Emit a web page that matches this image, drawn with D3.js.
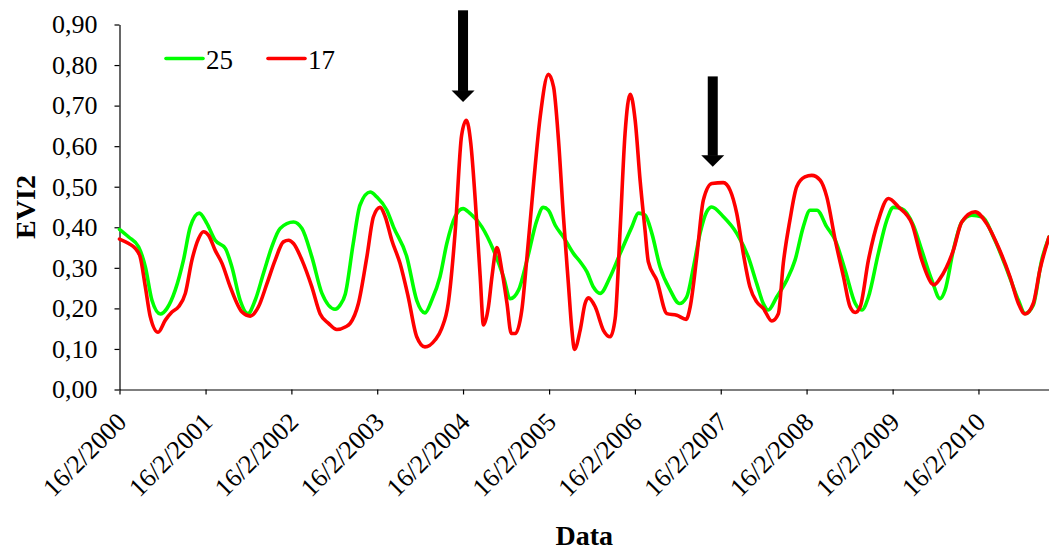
<!DOCTYPE html>
<html>
<head>
<meta charset="utf-8">
<script src="https://cdn.jsdelivr.net/npm/d3@7"></script>
<style>
  html, body { margin: 0; padding: 0; background: #ffffff; }
  svg { display: block; }
  text { font-family: "Liberation Serif", "Times New Roman", serif; fill: #000; }
</style>
</head>
<body>
<svg id="chart" width="1049" height="553"></svg>
<script>
// series names (legend)
var seriesNames = ["25", "17"];

// x tick labels
var xTickLabels = ["16/2/2000", "16/2/2001", "16/2/2002", "16/2/2003", "16/2/2004", "16/2/2005",
                   "16/2/2006", "16/2/2007", "16/2/2008", "16/2/2009", "16/2/2010"];

// y ticks
var yTicks = [0, 0.1, 0.2, 0.3, 0.4, 0.5, 0.6, 0.7, 0.8, 0.9];

// serie "25" (gron)
var greenDates = ["2000-02-16","2000-03-26","2000-05-07","2000-06-05","2000-07-03","2000-08-08","2000-09-05","2000-10-10",
  "2000-11-14","2000-12-13","2001-01-20","2001-02-22","2001-03-29","2001-05-11","2001-06-08","2001-07-13","2001-08-15",
  "2001-09-15","2001-10-20","2001-11-25","2001-12-30","2002-02-25","2002-04-02","2002-05-14","2002-06-26","2002-08-21",
  "2002-09-11","2002-10-03","2002-11-06","2002-12-05","2003-01-17","2003-02-14","2003-03-29","2003-04-26","2003-06-22",
  "2003-08-03","2003-09-07","2003-10-06","2003-11-10","2003-12-09","2004-01-13","2004-02-16","2004-03-17","2004-05-06",
  "2004-06-25","2004-08-06","2004-09-04","2004-10-09","2004-11-14","2004-12-26","2005-01-22","2005-02-13","2005-03-14",
  "2005-04-18","2005-05-31","2005-06-28","2005-07-27","2005-08-24","2005-09-21","2005-11-03","2005-12-15","2006-02-03",
  "2006-03-03","2006-03-31","2006-04-29","2006-06-03","2006-07-16","2006-08-24","2006-09-24","2006-10-23","2006-11-20",
  "2006-12-18","2007-01-09","2007-02-27","2007-04-25","2007-06-13","2007-07-19","2007-08-16","2007-09-06","2007-10-12",
  "2007-11-23","2007-12-29","2008-02-02","2008-03-02","2008-03-31","2008-05-12","2008-06-17","2008-07-29","2008-09-10",
  "2008-10-08","2008-11-05","2008-12-17","2009-01-22","2009-02-19","2009-03-27","2009-05-15","2009-06-20","2009-08-02",
  "2009-09-06","2009-09-27","2009-11-01","2009-12-07","2010-01-18","2010-03-02","2010-04-27","2010-06-23","2010-08-05",
  "2010-09-02","2010-10-07","2010-11-12","2010-12-13"];
var greenValues = [0.395,0.376,0.352,0.302,0.220,0.186,0.200,0.245,
  0.319,0.401,0.435,0.409,0.368,0.348,0.302,0.220,0.187,
  0.220,0.286,0.352,0.397,0.413,0.397,0.327,0.237,0.198,
  0.208,0.235,0.360,0.455,0.487,0.475,0.442,0.401,0.327,
  0.220,0.189,0.220,0.278,0.360,0.426,0.446,0.434,0.401,
  0.343,0.278,0.224,0.245,0.319,0.417,0.449,0.442,0.405,
  0.376,0.335,0.315,0.290,0.252,0.237,0.278,0.335,0.401,
  0.435,0.430,0.385,0.302,0.245,0.212,0.228,0.302,0.385,
  0.438,0.450,0.426,0.385,0.327,0.261,0.212,0.196,0.228,
  0.269,0.319,0.401,0.442,0.442,0.401,0.368,0.294,0.212,
  0.196,0.228,0.335,0.417,0.449,0.446,0.405,0.343,0.269,
  0.224,0.245,0.343,0.413,0.430,0.426,0.368,0.286,0.220,
  0.187,0.208,0.319,0.376];

// serie "17" (rod)
var redDates = ["2000-02-16","2000-03-26","2000-04-23","2000-05-14","2000-06-05","2000-06-26","2000-07-29","2000-08-29",
  "2000-09-26","2000-10-24","2000-11-22","2000-12-20","2001-01-17","2001-02-07","2001-03-01","2001-03-29","2001-04-27",
  "2001-06-01","2001-07-21","2001-08-25","2001-09-29","2001-11-04","2001-12-09","2002-01-13","2002-02-04","2002-02-25",
  "2002-04-02","2002-05-14","2002-06-18","2002-07-24","2002-08-28","2002-10-03","2002-10-24","2002-11-28","2003-01-03",
  "2003-01-31","2003-02-28","2003-03-22","2003-04-19","2003-05-24","2003-06-28","2003-08-03","2003-09-07","2003-10-20",
  "2003-11-17","2003-12-15","2004-01-13","2004-02-10","2004-03-01","2004-03-20","2004-04-08","2004-04-29","2004-05-13",
  "2004-06-03","2004-06-18","2004-07-09","2004-07-30","2004-08-21","2004-09-08","2004-09-25","2004-10-23","2004-11-14",
  "2004-12-12","2005-01-09","2005-02-13","2005-03-07","2005-03-28","2005-04-18","2005-05-09","2005-05-24","2005-06-04",
  "2005-06-28","2005-07-19","2005-08-02","2005-08-31","2005-10-05","2005-11-03","2005-11-24","2005-12-15","2006-01-05",
  "2006-01-27","2006-02-17","2006-03-10","2006-03-31","2006-04-14","2006-05-20","2006-07-02","2006-08-13","2006-09-22",
  "2006-10-09","2006-11-06","2006-12-04","2007-01-09","2007-02-27","2007-03-28","2007-04-25","2007-05-23","2007-06-20",
  "2007-07-19","2007-08-16","2007-09-21","2007-10-19","2007-11-09","2007-12-07","2008-01-05","2008-02-09","2008-03-09",
  "2008-04-14","2008-05-12","2008-06-17","2008-07-22","2008-08-19","2008-09-10","2008-10-01","2008-11-05","2008-12-17",
  "2009-01-29","2009-03-13","2009-05-09","2009-06-20","2009-08-02","2009-08-11","2009-09-06","2009-11-01","2009-12-07",
  "2010-02-02","2010-03-23","2010-05-11","2010-06-30","2010-08-05","2010-09-02","2010-10-07","2010-11-04","2010-12-13"];
var redValues = [0.371,0.360,0.348,0.327,0.253,0.179,0.141,0.171,
  0.191,0.204,0.237,0.319,0.372,0.389,0.380,0.343,0.311,
  0.253,0.191,0.181,0.204,0.261,0.319,0.364,0.368,0.360,
  0.319,0.253,0.187,0.163,0.148,0.154,0.163,0.212,0.327,
  0.426,0.449,0.426,0.368,0.311,0.228,0.130,0.105,0.122,
  0.150,0.212,0.385,0.627,0.664,0.607,0.467,0.278,0.159,
  0.204,0.278,0.350,0.294,0.212,0.138,0.138,0.196,0.327,
  0.508,0.672,0.777,0.746,0.615,0.426,0.261,0.146,0.099,
  0.146,0.212,0.226,0.204,0.146,0.130,0.175,0.393,0.631,
  0.728,0.664,0.516,0.393,0.315,0.269,0.187,0.183,0.173,
  0.204,0.327,0.467,0.508,0.510,0.491,0.434,0.335,0.253,
  0.216,0.200,0.169,0.187,0.311,0.417,0.500,0.524,0.528,
  0.516,0.475,0.368,0.278,0.204,0.190,0.204,0.319,0.417,
  0.471,0.450,0.409,0.319,0.261,0.258,0.274,0.343,0.413,
  0.438,0.409,0.352,0.278,0.212,0.186,0.212,0.294,0.376];

// pile (arrows): dato, top og spids i EVI2-enheder
var arrowDates = ["2004-02-16", "2007-01-13"];
var arrowTops = [0.935, 0.772];
var arrowTips = [0.709, 0.549];

var parseDate = d3.timeParse("%Y-%m-%d");
var parseTick = d3.timeParse("%d/%m/%Y");

var svg = d3.select("#chart");
var plotLeft = 119.5, plotTop = 24.5, plotRight = 1049, plotBottom = 389.5;

var x = d3.scaleTime()
    .domain([parseDate("2000-02-16"), parseDate("2010-12-13")])
    .range([plotLeft, plotRight]);

var y = d3.scaleLinear()
    .domain([0, 0.9])
    .range([plotBottom, plotTop]);

// Y akse
svg.append("g")
    .attr("transform", "translate(" + plotLeft + ",0)")
    .call(d3.axisLeft(y)
        .tickValues(yTicks)
        .tickSize(5)
        .tickSizeOuter(0)
        .tickPadding(17)
        .tickFormat(function(d) { return d3.format(".2f")(d).replace(".", ","); }))
    .attr("font-family", "Liberation Serif, serif")
    .attr("font-size", 26)
    .call(function(g) {
        g.selectAll("path, line").attr("stroke", "#000").attr("stroke-width", 1.2);
        g.selectAll("text").attr("fill", "#000");
    });

// X akse
svg.append("g")
    .attr("transform", "translate(0," + plotBottom + ")")
    .call(d3.axisBottom(x)
        .tickValues(xTickLabels.map(parseTick))
        .tickSize(5)
        .tickSizeOuter(0)
        .tickFormat(function(d, i) { return xTickLabels[i]; }))
    .attr("font-family", "Liberation Serif, serif")
    .attr("font-size", 26)
    .call(function(g) {
        g.selectAll("path, line").attr("stroke", "#000").attr("stroke-width", 1.2);
        g.selectAll("text")
            .attr("x", 0).attr("y", 0).attr("dy", 0)
            .attr("text-anchor", "end")
            .attr("transform", "translate(8,34) rotate(-45)")
            .attr("fill", "#000");
    });

// aksetitler
svg.append("text")
    .attr("transform", "translate(35," + ((plotTop + plotBottom) / 2) + ") rotate(-90)")
    .attr("text-anchor", "middle")
    .style("font-size", "28px")
    .style("font-weight", "bold")
    .text("EVI2");

svg.append("text")
    .attr("x", (plotLeft + plotRight) / 2)
    .attr("y", 545)
    .attr("text-anchor", "middle")
    .style("font-size", "28px")
    .style("font-weight", "bold")
    .text("Data");

// linjer
var line = d3.line()
    .x(function(d) { return x(d.date); })
    .y(function(d) { return y(d.value); })
    .curve(d3.curveMonotoneX);

var greenData = greenDates.map(function(d, i) { return { date: parseDate(d), value: greenValues[i] }; });
var redData = redDates.map(function(d, i) { return { date: parseDate(d), value: redValues[i] }; });

var colors = ["#00ff00", "#ff0000"];

[greenData, redData].forEach(function(data, i) {
    svg.append("path")
        .datum(data)
        .attr("d", line)
        .attr("fill", "none")
        .attr("stroke", colors[i])
        .attr("stroke-width", 3.6)
        .attr("stroke-linejoin", "round")
        .attr("stroke-linecap", "round");
});

// pile
arrowDates.forEach(function(d, i) {
    var ax = x(parseDate(d));
    var yTop = y(arrowTops[i]);
    var yTip = y(arrowTips[i]);
    var headH = 11.5;
    svg.append("rect")
        .attr("x", ax - 5)
        .attr("y", yTop)
        .attr("width", 10)
        .attr("height", yTip - headH - yTop + 0.5)
        .attr("fill", "#000");
    svg.append("path")
        .attr("d", "M" + (ax - 11.5) + "," + (yTip - headH) + "L" + (ax + 11.5) + "," + (yTip - headH) + "L" + ax + "," + yTip + "Z")
        .attr("fill", "#000");
});

// legend
var legendX = [166, 268];
seriesNames.forEach(function(name, i) {
    svg.append("line")
        .attr("x1", legendX[i]).attr("x2", legendX[i] + 37)
        .attr("y1", 58.5).attr("y2", 58.5)
        .attr("stroke", colors[i])
        .attr("stroke-width", 3.6)
        .attr("stroke-linecap", "round");
    svg.append("text")
        .attr("x", legendX[i] + 40)
        .attr("y", 69)
        .style("font-size", "27px")
        .text(name);
});
</script>
</body>
</html>
